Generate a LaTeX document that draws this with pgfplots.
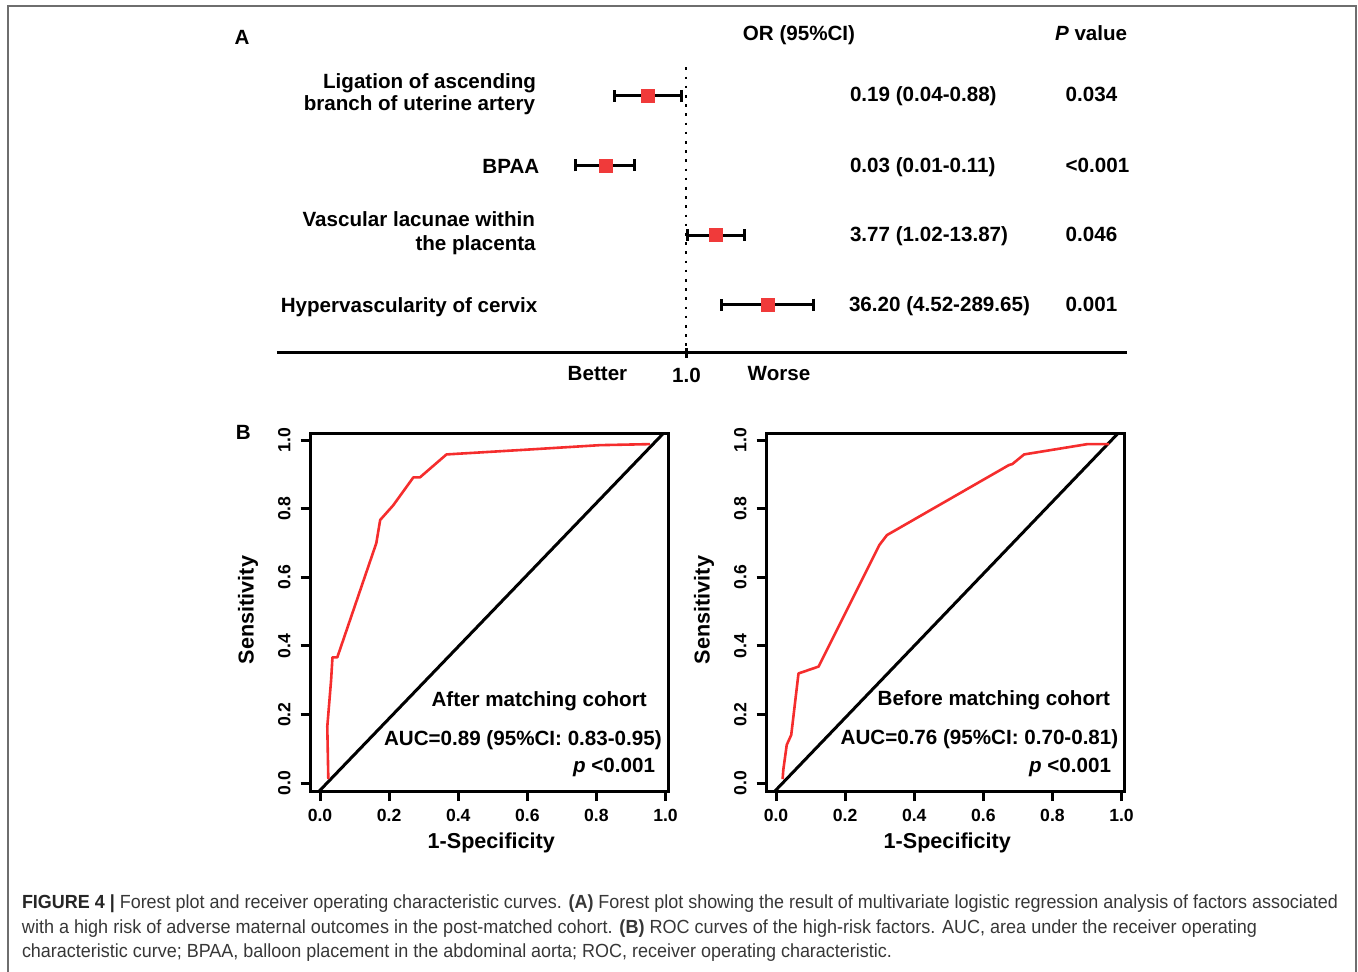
\documentclass[border=0pt]{standalone}
\usepackage{fontspec}
\setmainfont{Liberation Sans}
\usepackage{graphicx}
\usepackage{pgfplots}
\pgfplotsset{compat=1.18}
\usetikzlibrary{arrows.meta}
\definecolor{fred}{RGB}{240,58,58}
\definecolor{rocred}{RGB}{245,45,45}
\definecolor{framegray}{RGB}{110,110,110}
\definecolor{captext}{RGB}{55,55,55}
\newcommand{\ft}{\bfseries\fontsize{10.3}{12}\selectfont}
\pgfplotsset{
  roc/.style={
    anchor=south west, scale only axis, width=178.8pt, height=178.5pt,
    xmin=-0.027, xmax=1.008, ymin=-0.0224, ymax=1.0175,
    axis line style={line width=1.5pt},
    tick align=outside, major tick length=5pt,
    tick style={line width=1.5pt, black},
    xtick pos=bottom, ytick pos=left,
    xtick={0,0.2,0.4,0.6,0.8,1}, xticklabels={0.0,0.2,0.4,0.6,0.8,1.0},
    ytick={0,0.2,0.4,0.6,0.8,1}, yticklabels={0.0,0.2,0.4,0.6,0.8,1.0},
    ticklabel style={font=\bfseries\fontsize{8.8}{10}\selectfont},
    xticklabel style={yshift=-0.8pt},
    yticklabel style={xshift=-1.5pt, rotate=90, anchor=south},
    xlabel={1-Specificity}, ylabel={Sensitivity},
    label style={font=\bfseries\fontsize{10.8}{12}\selectfont},
    xlabel style={at={(axis description cs:0.505,-0.1457)}, anchor=center},
    ylabel style={at={(axis description cs:-0.1753,0.507)}, anchor=center},
  }
}
\begin{document}
\begin{tikzpicture}
\path[use as bounding box] (0,0) rectangle (679pt,-486pt);
\draw[framegray, line width=1pt] (4pt,-486pt) -- (4pt,-3pt) -- (677.75pt,-3pt) -- (677.75pt,-486pt);

% ---------------- Panel A: forest plot ----------------
\begin{axis}[at={(138.5pt,-176.35pt)}, anchor=south west, scale only axis,
  width=425pt, height=142.7pt, xmode=log, xmin=1.62e-8, xmax=2.51e8,
  ymin=0.31, ymax=4.41, hide axis, clip=false]
\draw[line width=1.5pt] (rel axis cs:0,0) -- (rel axis cs:1,0);
\draw[line width=1.5pt] ([yshift=2.35pt]axis cs:1,0.31) -- ([yshift=-2.65pt]axis cs:1,0.31);
\draw[line width=1.3pt, dash pattern=on 1.3pt off 3.3pt] (axis cs:1,4.41) -- (axis cs:1,0.31);
\addplot[line width=1.5pt, {Bar[width=6pt]}-{Bar[width=6pt]}] coordinates {(0.04,4) (0.88,4)};
\addplot[line width=1.5pt, {Bar[width=6pt]}-{Bar[width=6pt]}] coordinates {(0.0075,3) (0.11,3)};
\addplot[line width=1.5pt, {Bar[width=6pt]}-{Bar[width=6pt]}] coordinates {(1.02,2) (13.87,2)};
\addplot[line width=1.5pt, {Bar[width=6pt]}-{Bar[width=6pt]}] coordinates {(4.52,1) (289.65,1)};
\addplot[only marks, mark=square*, mark size=3.25pt, mark options={draw=fred, fill=fred}]
  coordinates {(0.19,4) (0.03,3) (3.77,2) (36.2,1)};
\end{axis}

% ---------------- Panel B: ROC curves ----------------
\begin{axis}[roc, at={(155.35pt,-395.5pt)}]
\addplot[black, line width=1.5pt] coordinates {(-0.002,-0.0224) (0.992,1.0175)};
\addplot[rocred, line width=1.3pt, line join=round] coordinates {
 (0.024,0.012) (0.021,0.165) (0.032,0.30) (0.036,0.367) (0.05,0.367)
 (0.163,0.70) (0.174,0.767) (0.212,0.81) (0.27,0.891) (0.289,0.891)
 (0.366,0.958) (0.60,0.972) (0.81,0.985) (0.955,0.988)};
\end{axis}

\begin{axis}[roc, at={(383.35pt,-395.5pt)}]
\addplot[black, line width=1.5pt] coordinates {(-0.003,-0.0224) (0.988,1.0175)};
\addplot[rocred, line width=1.3pt, line join=round] coordinates {
 (0.019,0.012) (0.021,0.039) (0.031,0.112) (0.044,0.141) (0.065,0.32)
 (0.123,0.34) (0.299,0.694) (0.321,0.723) (0.674,0.927) (0.684,0.930)
 (0.718,0.958) (0.901,0.988) (0.964,0.988)};
\end{axis}

% ---------------- Text ----------------
\begin{scope}[x=0.5pt, y=-0.5pt, every node/.style={inner sep=0pt, outer sep=0pt}]
\node[anchor=base] at (242,44.5) {\ft A};
\node[anchor=base] at (799,40.7) {\ft OR (95\%CI)};
\node[anchor=base west] at (1055,40.5) {\ft \textit{P} value};

\node[anchor=base east] at (536,88.3) {\ft Ligation of ascending};
\node[anchor=base east] at (535,111) {\ft branch of uterine artery};
\node[anchor=base east] at (539.3,173.3) {\ft BPAA};
\node[anchor=base east] at (535,226.7) {\ft Vascular lacunae within};
\node[anchor=base east] at (535.7,250.7) {\ft the placenta};
\node[anchor=base east] at (537.3,312.3) {\ft Hypervascularity of cervix};

\node[anchor=base west] at (850,101.7) {\ft 0.19 (0.04-0.88)};
\node[anchor=base west] at (850,172.3) {\ft 0.03 (0.01-0.11)};
\node[anchor=base west] at (850,241.7) {\ft 3.77 (1.02-13.87)};
\node[anchor=base west] at (849,311.7) {\ft 36.20 (4.52-289.65)};
\node[anchor=base west] at (1065.7,101.7) {\ft 0.034};
\node[anchor=base west] at (1065.7,172.3) {\ft <0.001};
\node[anchor=base west] at (1065.7,241.7) {\ft 0.046};
\node[anchor=base west] at (1065.7,311.7) {\ft 0.001};

\node[anchor=base] at (597.5,380.7) {\ft Better};
\node[anchor=base] at (686.5,382.7) {\ft 1.0};
\node[anchor=base] at (779,380.7) {\ft Worse};

\node[anchor=base] at (243.3,439.3) {\ft B};
\node[anchor=base east] at (646.7,706) {\ft After matching cohort};
\node[anchor=base east] at (661.7,745) {\ft AUC=0.89 (95\%CI: 0.83-0.95)};
\node[anchor=base east] at (655,772.7) {\ft \textit{p} <0.001};
\node[anchor=base east] at (1110,705) {\ft Before matching cohort};
\node[anchor=base east] at (1118.3,744) {\ft AUC=0.76 (95\%CI: 0.70-0.81)};
\node[anchor=base east] at (1111,772.7) {\ft \textit{p} <0.001};

\node[anchor=base west, text=captext] at (22,908.3) {\fontsize{9.5}{11}\selectfont\resizebox{658pt}{\height}{\textbf{\color{black!85}FIGURE 4 |} Forest plot and receiver operating characteristic curves. \textbf{(A)} Forest plot showing the result of multivariate logistic regression analysis of factors associated}};
\node[anchor=base west, text=captext] at (22,933.3) {\fontsize{9.5}{11}\selectfont\resizebox{617.5pt}{\height}{with a high risk of adverse maternal outcomes in the post-matched cohort. \textbf{(B)} ROC curves of the high-risk factors. AUC, area under the receiver operating}};
\node[anchor=base west, text=captext] at (22,957.8) {\fontsize{9.5}{11}\selectfont\resizebox{435pt}{\height}{characteristic curve; BPAA, balloon placement in the abdominal aorta; ROC, receiver operating characteristic.}};
\end{scope}
\end{tikzpicture}
\end{document}
